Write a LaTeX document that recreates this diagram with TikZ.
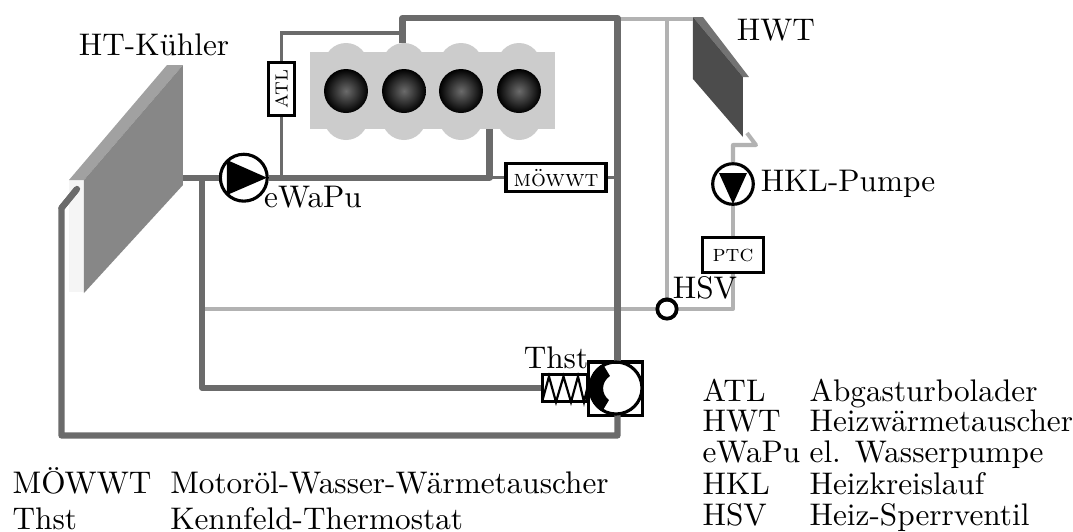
\documentclass[tikz,border=0pt]{standalone}
\usepackage{array}
\definecolor{pipedark}{gray}{0.42}
\definecolor{pipebright}{gray}{0.7}
\tikzset{
    pipethick/.style={draw=pipedark, line width=2pt, line join=round},
    pipethin/.style={draw=pipedark, line width=1pt},
    pipelight/.style={draw=pipebright, line width=1.3pt, line join=round},
    pumpcircle/.style={circle, draw=black, fill=white, line width=1pt, minimum size=15pt, inner sep=0pt},
    labelbox/.style={draw=black, fill=white, line width=1pt, inner sep=0pt, font=\fontsize{7.5}{9}\selectfont\scshape},
    plainbox/.style={draw=black, fill=white, line width=1pt, inner sep=0pt},
    legendtab/.style={inner sep=0pt, anchor=north west},
}
\begin{document}
\begin{tikzpicture}[x=0.32pt,y=-0.32pt]
    \useasboundingbox (0,0) rectangle (1073,532);

    % Kuehler
    \fill[black!4] (69,180) -- (84,180) -- (84,292) -- (69,292) -- cycle;
    \fill[black!37] (69,180) -- (167,65) -- (183,65) -- (84,180) -- cycle;
    \fill[black!47] (84,180) -- (183,65) -- (183,185) -- (84,293) -- cycle;

    % Heizwaermetauscher
    \fill[black!55] (693,17) -- (703,17) -- (749,77) -- (743,77) -- cycle;
    \fill[black!70] (693,17) -- (743,77) -- (743,137) -- (693,79) -- cycle;

    % Motor
    \fill[black!20] (310,52) rectangle (555,129);
    \foreach \x in {346,404,461,519} {
        \fill[black!20] (\x,65) circle (22);
        \fill[black!20] (\x,118) circle (22);
        \shade[inner color=black!58, outer color=black] (\x,91) circle (22);
    }

    % Bauteile
    \node[pumpcircle] (ewapu) at (243.8,177.7) {};
    \node[pumpcircle, minimum size=13pt] (hklpumpe) at (733,184) {};
    \node[pumpcircle, minimum size=6pt] (hsv) at (667,309) {};
    \node[labelbox, rotate=90, minimum width=17pt, minimum height=8.5pt] (atl) at (281.5,89) {atl};
    \node[labelbox, minimum width=32pt, minimum height=9pt] (moewwt) at (556,177.7) {möwwt};
    \node[labelbox, minimum width=19.5pt, minimum height=11pt] (ptc) at (733,255) {ptc};
    \node[plainbox, minimum width=17.5pt, minimum height=17pt] (thst) at (615.5,388.5) {};
    \node[plainbox, minimum width=14.5pt, minimum height=8.5pt] (feder) at (565,388) {};

    \coordinate (kuehlerin) at (77,189);
    \coordinate (kuehlerout) at (183,177.7);
    \coordinate (motorin) at (489.5,129);
    \coordinate (motorout) at (402.5,43);
    \coordinate (hwtin) at (693,19);
    \coordinate (hwtout) at (747,133);

    % Heizkreislauf
    \draw[pipelight] (202,309) -- (hsv.west);
    \draw[pipelight] (hsv.east) -- (733,309) -- (ptc.south);
    \draw[pipelight] (ptc.north) -- (hklpumpe.south);
    \draw[pipelight] (hklpumpe.north) -- (733,145) -- (756,145) -- (hwtout);
    \draw[pipelight] (hsv.north) -- (667,19);
    \draw[pipelight] (617.5,19) -- (hwtin);

    % Hauptkreislauf
    \draw[pipethin] (281.5,177.7) -- (atl.west);
    \draw[pipethin] (atl.east) -- (281.5,33) -- (402.5,33);
    \draw[pipethin] (489.5,177.7) -- (moewwt.west);
    \draw[pipethin] (moewwt.east) -- (617.5,177.7);
    \draw[pipethick] (kuehlerout) -- (ewapu.west);
    \draw[pipethick] (ewapu.east) -- (489.5,177.7) -- (motorin);
    \draw[pipethick, line width=1.7pt] (202,177.7) -- (202,388) -- (feder.west);
    \draw[pipethick] (motorout) -- (402.5,18) -- (617.5,18) -- (617.5,362);
    \draw[pipethick] (617.5,415) -- (617.5,435.5) -- (61.5,435.5) -- (61.5,208) -- (kuehlerin);
    \draw[pipethick, line cap=round] (61.5,208) -- (kuehlerin);

    % Pumpen
    \fill[black] (227,160) -- (267,177.7) -- (227,195) -- cycle;
    \fill[black] (719,173) -- (747,173) -- (733,204) -- cycle;

    % Ventile
    \begin{scope}
        \clip (667,309) circle (10);
        \fill[black] (650,290) -- (684,290) -- (684,304) -- (674,304) -- (672,303)
            .. controls (669,301) and (665,301) .. (662,303) -- (660,304) -- (650,304) -- cycle;
    \end{scope}
    \draw[line width=1pt] (667,309) circle (10);
    \draw[line width=1pt] (616,388) circle (26);
    \begin{scope}
        \clip (616,388) circle (26);
        \fill[black] (585,358) -- (604,366) -- (610,376)
            .. controls (601,382) and (601,394) .. (609,400) -- (603,410) -- (585,418) -- cycle;
    \end{scope}
    \draw[line width=0.7pt, line join=miter] (542,402) -- (549,376.5) -- (556,402) -- (563.5,376.5)
        -- (571,402) -- (578,376.5) -- (584,402) -- (588,385);

    % Beschriftung
    \node (htlabel) at (154,45) {HT-Kühler};
    \node (hwtlabel) at (776,30) {HWT};
    \node (ewapulabel) at (313,197) {eWaPu};
    \node (hkllabel) at (848,184) {HKL-Pumpe};
    \node (hsvlabel) at (705,288) {HSV};
    \node (thstlabel) at (556,358) {Thst};

    % Legende
    \node[legendtab] (legendeleft) at (12,467) {\renewcommand{\arraystretch}{0.96}%
        \begin{tabular}{@{}l@{\hspace{6pt}}l@{}}
            MÖWWT & Motoröl-Wasser-Wärmetauscher\\
            Thst & Kennfeld-Thermostat
        \end{tabular}};
    \node[legendtab] (legenderight) at (702,378) {\renewcommand{\arraystretch}{0.82}%
        \begin{tabular}{@{}l@{\hspace{3pt}}l@{}}
            ATL & Abgasturbolader\\
            HWT & Heizwärmetauscher\\
            eWaPu & el. Wasserpumpe\\
            HKL & Heizkreislauf\\
            HSV & Heiz-Sperrventil
        \end{tabular}};
\end{tikzpicture}
\end{document}
